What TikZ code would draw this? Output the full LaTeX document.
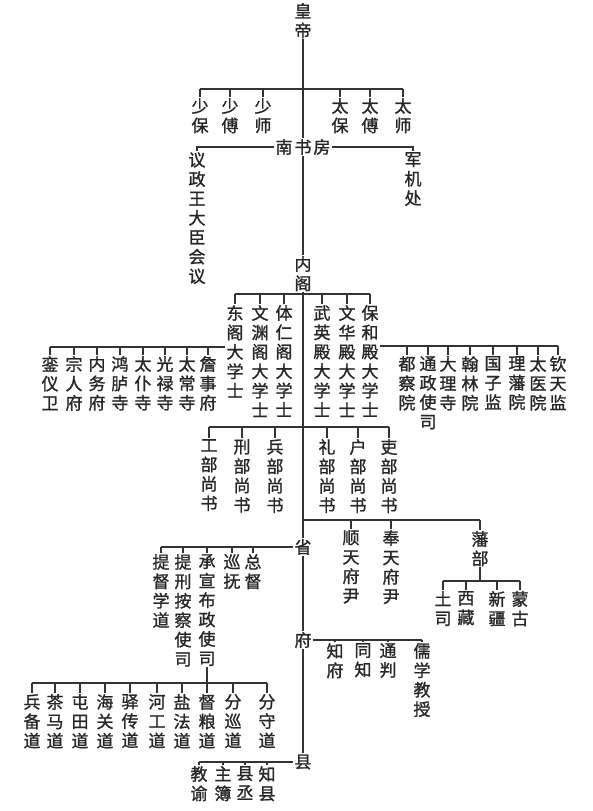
\documentclass[tikz,border=0pt]{standalone}
\usepackage{fontspec}
\setmainfont{Noto Sans CJK SC}[FakeBold=1.2]
\usetikzlibrary{positioning}
\tikzset{
  vl/.style={align=center, anchor=north, inner sep=1pt, font=\fontsize{17}{19.4}\selectfont, text=black!85,
    execute at begin node={\rule{0pt}{15pt}}},
  hl/.style={inner sep=1pt, font=\fontsize{17}{19.4}\selectfont, text=black!85},
  ln/.style={line width=1.1pt, draw=black!80},
}
\begin{document}
\begin{tikzpicture}[x=1pt, y=-1pt]
\useasboundingbox (0,0) rectangle (592,811);

% trunk
\node[vl] (hd) at (303,2) {皇\\帝};
\node[hl] (nsf) at (303,147) {南\hspace{2pt}书\hspace{2pt}房};
\node[vl] (ng) at (303,255) {内\\阁};
\node[hl] (sheng) at (303,547) {省};
\node[hl] (fu) at (303,640) {府};
\node[hl] (xian) at (303,762) {县};
\draw[ln] (hd) -- (nsf) -- (ng) -- (sheng) -- (fu) -- (xian);

% san gong san gu
\foreach \x/\t/\n in {200/{少\\保}/sb, 230/{少\\傅}/sf, 263/{少\\师}/ss, 340/{太\\保}/tb, 370/{太\\傅}/tf, 403/{太\\师}/ts}
  \node[vl] (\n) at (\x,97) {\t};
\coordinate (bsg) at (0,89);
\draw[ln] (sb.north |- bsg) -- (ts.north |- bsg);
\foreach \n in {sb,sf,ss,tb,tf,ts}
  \draw[ln] (\n.north) -- (\n.north |- bsg);

% nan shu fang
\node[vl] (yz) at (197,151) {议\\政\\王\\大\\臣\\会\\议};
\node[vl] (jj) at (413,151) {军\\机\\处};
\draw[ln] (nsf.west) -| (yz.north);
\draw[ln] (nsf.east) -| (jj.north);

% da xue shi
\foreach \x/\t/\n in {235/{东\\阁\\大\\学\\士}/dg, 260/{文\\渊\\阁\\大\\学\\士}/wy, 284/{体\\仁\\阁\\大\\学\\士}/tr,
  322/{武\\英\\殿\\大\\学\\士}/wyd, 347/{文\\华\\殿\\大\\学\\士}/wh, 370/{保\\和\\殿\\大\\学\\士}/bh}
  \node[vl] (\n) at (\x,304) {\t};
\coordinate (bdx) at (0,294);
\draw[ln] (dg.north |- bdx) -- (bh.north |- bdx);
\foreach \n in {dg,wy,tr,wyd,wh,bh}
  \draw[ln] (\n.north) -- (\n.north |- bdx);

% si, fu (left)
\foreach \x/\t/\n in {50/{銮\\仪\\卫}/ly, 74/{宗\\人\\府}/zr, 97/{内\\务\\府}/nw, 120/{鸿\\胪\\寺}/hlu,
  143/{太\\仆\\寺}/tp, 165/{光\\禄\\寺}/gl, 187/{太\\常\\寺}/tc, 208/{詹\\事\\府}/zs}
  \node[vl] (\n) at (\x,355) {\t};
\coordinate (bls) at (0,347);
\draw[ln] (ly.north |- bls) -- (dg.west |- bls);
\foreach \n in {ly,zr,nw,hlu,tp,gl,tc,zs}
  \draw[ln] (\n.north) -- (\n.north |- bls);

% yuan, si, jian (right)
\foreach \x/\t/\n in {407/{都\\察\\院}/dc, 428/{通\\政\\使\\司}/tz, 448/{大\\理\\寺}/dl, 470/{翰\\林\\院}/hly,
  493/{国\\子\\监}/gz, 517/{理\\藩\\院}/lf, 538/{太\\医\\院}/ty, 558/{钦\\天\\监}/qt}
  \node[vl] (\n) at (\x,355) {\t};
\coordinate (brs) at (0,346);
\draw[ln] (bh.east |- brs) -- (qt.north |- brs);
\foreach \n in {dc,tz,dl,hly,gz,lf,ty,qt}
  \draw[ln] (\n.north) -- (\n.north |- brs);

% liu bu
\foreach \x/\t/\n in {209/{工\\部\\尚\\书}/gb, 242/{刑\\部\\尚\\书}/xb, 275/{兵\\部\\尚\\书}/bb,
  327/{礼\\部\\尚\\书}/lb, 358/{户\\部\\尚\\书}/hb, 389/{吏\\部\\尚\\书}/lib}
  \node[vl] (\n) at (\x,438) {\t};
\coordinate (blb) at (0,427);
\draw[ln] (gb.north |- blb) -- (lib.north |- blb);
\foreach \n in {gb,xb,bb,lb,hb,lib}
  \draw[ln] (\n.north) -- (\n.north |- blb);

% fu yin, fan bu
\node[vl] (st) at (351,529) {顺\\天\\府\\尹};
\node[vl] (ft) at (391,529) {奉\\天\\府\\尹};
\node[vl] (fb) at (480,530) {藩\\部};
\coordinate (bst) at (0,520);
\draw[ln] (ng.south |- bst) -- (fb.north |- bst);
\foreach \n in {st,ft,fb}
  \draw[ln] (\n.north) -- (\n.north |- bst);

\foreach \x/\t/\n in {443/{土\\司}/tsi, 466/{西\\藏}/xz, 497/{新\\疆}/xj, 520/{蒙\\古}/mg}
  \node[vl] (\n) at (\x,590) {\t};
\coordinate (bfb) at (0,581);
\draw[ln] (fb.south) -- (fb.south |- bfb);
\draw[ln] (tsi.north |- bfb) -- (mg.north |- bfb);
\foreach \n in {tsi,xz,xj,mg}
  \draw[ln] (\n.north) -- (\n.north |- bfb);

% sheng
\foreach \x/\t/\n in {161/{提\\督\\学\\道}/td, 183/{提\\刑\\按\\察\\使\\司}/tx, 207/{承\\宣\\布\\政\\使\\司}/cx,
  232/{巡\\抚}/xf, 253/{总\\督}/zd}
  \node[vl] (\n) at (\x,553) {\t};
\draw[ln] (sheng.west) -- (td.north |- sheng.west);
\foreach \n in {td,tx,cx,xf,zd}
  \draw[ln] (\n.north) -- (\n.north |- sheng.west);

% dao
\foreach \x/\t/\n in {32/{兵\\备\\道}/d1, 55/{茶\\马\\道}/d2, 80/{屯\\田\\道}/d3, 105/{海\\关\\道}/d4,
  130/{驿\\传\\道}/d5, 157/{河\\工\\道}/d6, 182/{盐\\法\\道}/d7, 207/{督\\粮\\道}/d8,
  233/{分\\巡\\道}/d9, 267/{分\\守\\道}/d10}
  \node[vl] (\n) at (\x,693) {\t};
\coordinate (bdao) at (0,683);
\draw[ln] (cx.south) -- (cx.south |- bdao);
\draw[ln] (d1.north |- bdao) -- (d10.north |- bdao);
\foreach \n in {d1,d2,d3,d4,d5,d6,d7,d8,d9,d10}
  \draw[ln] (\n.north) -- (\n.north |- bdao);

% fu
\foreach \x/\t/\n in {335/{知\\府}/zf, 363/{同\\知}/tzh, 388/{通\\判}/tp2, 422/{儒\\学\\教\\授}/rx}
  \node[vl] (\n) at (\x,642) {\t};
\draw[ln] (fu.east) -- (rx.north |- fu.east);
\foreach \n in {zf,tzh,tp2,rx}
  \draw[ln] (\n.north) -- (\n.north |- fu.east);

% xian
\foreach \x/\t/\n in {199/{教\\谕}/jy, 223/{主\\簿}/zb, 245/{县\\丞}/xc, 267/{知\\县}/zx}
  \node[vl] (\n) at (\x,765) {\t};
\draw[ln] (xian.west) -- (jy.north |- xian.west);
\foreach \n in {jy,zb,xc,zx}
  \draw[ln] (\n.north) -- (\n.north |- xian.west);
\end{tikzpicture}
\end{document}
